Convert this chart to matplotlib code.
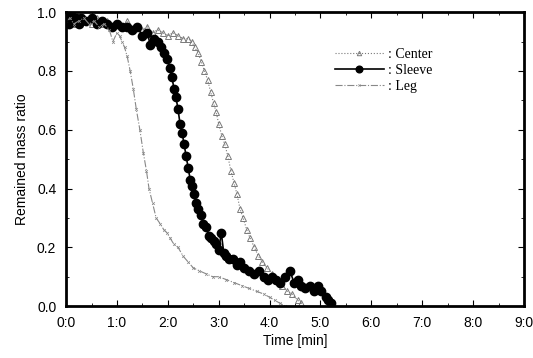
import numpy as np
import matplotlib.pyplot as plt
from matplotlib.ticker import MultipleLocator, FuncFormatter

# Time in minutes, remained mass ratio
leg_t = [0.00, 0.08, 0.15, 0.25, 0.35, 0.45, 0.55, 0.65, 0.75, 0.85, 0.92, 1.00,
         1.05, 1.10, 1.15, 1.20, 1.26, 1.32, 1.38, 1.45, 1.52, 1.58, 1.63, 1.70,
         1.77, 1.85, 1.92, 1.98, 2.05, 2.12, 2.20, 2.30, 2.40, 2.50, 2.62, 2.75,
         2.88, 3.00, 3.15, 3.30, 3.45, 3.60, 3.75, 3.90, 4.00, 4.10, 4.20, 4.30]
leg_m = [0.97, 0.98, 0.96, 0.97, 0.98, 0.96, 0.97, 0.95, 0.96, 0.94, 0.90, 0.93,
         0.92, 0.90, 0.88, 0.85, 0.80, 0.74, 0.67, 0.60, 0.52, 0.46, 0.40, 0.35,
         0.30, 0.28, 0.26, 0.25, 0.23, 0.21, 0.20, 0.17, 0.15, 0.13, 0.12, 0.11,
         0.10, 0.10, 0.09, 0.08, 0.07, 0.06, 0.05, 0.04, 0.03, 0.02, 0.01, 0.00]

sleeve_t = [0.00, 0.05, 0.10, 0.15, 0.20, 0.25, 0.30, 0.40, 0.50, 0.60, 0.70, 0.80,
            0.90, 1.00, 1.10, 1.20, 1.30, 1.40, 1.50, 1.60, 1.65, 1.72, 1.80, 1.87,
            1.93, 1.98, 2.04, 2.08, 2.12, 2.16, 2.20, 2.24, 2.28, 2.32, 2.36, 2.40,
            2.44, 2.48, 2.52, 2.56, 2.60, 2.65, 2.70, 2.75, 2.80, 2.85, 2.90, 2.95,
            3.00, 3.05, 3.10, 3.15, 3.20, 3.28, 3.35, 3.42, 3.50, 3.60, 3.70, 3.80,
            3.90, 3.97, 4.05, 4.12, 4.20, 4.30, 4.40, 4.48, 4.55, 4.62, 4.70, 4.80,
            4.88, 4.95, 5.02, 5.10, 5.15, 5.20]
sleeve_m = [0.98, 0.96, 0.99, 0.97, 0.98, 0.96, 0.98, 0.97, 0.98, 0.96, 0.97, 0.96,
            0.95, 0.96, 0.95, 0.95, 0.94, 0.95, 0.92, 0.93, 0.89, 0.91, 0.90, 0.88,
            0.86, 0.84, 0.81, 0.78, 0.74, 0.71, 0.67, 0.62, 0.59, 0.55, 0.51, 0.47,
            0.43, 0.41, 0.38, 0.35, 0.33, 0.31, 0.28, 0.27, 0.24, 0.23, 0.22, 0.21,
            0.19, 0.25, 0.18, 0.17, 0.16, 0.16, 0.14, 0.15, 0.13, 0.12, 0.11, 0.12,
            0.10, 0.09, 0.10, 0.09, 0.08, 0.10, 0.12, 0.08, 0.09, 0.07, 0.06, 0.07,
            0.05, 0.07, 0.05, 0.03, 0.02, 0.01]

center_t = [0.00, 0.10, 0.20, 0.30, 0.40, 0.50, 0.60, 0.70, 0.80, 0.90, 1.00, 1.10,
            1.20, 1.30, 1.40, 1.50, 1.60, 1.70, 1.80, 1.90, 2.00, 2.10, 2.20, 2.30,
            2.40, 2.47, 2.53, 2.60, 2.66, 2.72, 2.78, 2.84, 2.90, 2.95, 3.00, 3.06,
            3.12, 3.18, 3.24, 3.30, 3.36, 3.42, 3.48, 3.55, 3.62, 3.70, 3.78, 3.86,
            3.95, 4.05, 4.15, 4.25, 4.35, 4.45, 4.55, 4.62]
center_m = [0.97, 0.98, 0.96, 0.98, 0.97, 0.96, 0.98, 0.96, 0.97, 0.95, 0.96, 0.95,
            0.97, 0.94, 0.95, 0.94, 0.95, 0.93, 0.94, 0.93, 0.92, 0.93, 0.92, 0.91,
            0.91, 0.90, 0.88, 0.86, 0.83, 0.80, 0.77, 0.73, 0.69, 0.66, 0.62, 0.58,
            0.55, 0.51, 0.46, 0.42, 0.38, 0.33, 0.30, 0.26, 0.23, 0.20, 0.17, 0.15,
            0.13, 0.11, 0.09, 0.07, 0.05, 0.04, 0.02, 0.01]

fig = plt.figure(figsize=(5.33, 3.58), dpi=100)
ax = fig.add_axes([0.124, 0.145, 0.859, 0.821])

ax.plot(center_t, center_m, color='#7a7a7a', linestyle=':', linewidth=0.8,
        marker='^', markersize=4, markerfacecolor='none', markeredgewidth=0.7,
        label=': Center')
ax.plot(sleeve_t, sleeve_m, color='black', linestyle='-', linewidth=1.2,
        marker='o', markersize=6, label=': Sleeve')
ax.plot(leg_t, leg_m, color='#888888', linestyle='-.', linewidth=0.8,
        marker='x', markersize=2, markeredgewidth=0.5, label=': Leg')

ax.set_xlim(0, 9)
ax.set_ylim(0, 1.0)
ax.xaxis.set_major_locator(MultipleLocator(1))
ax.xaxis.set_minor_locator(MultipleLocator(0.5))
ax.yaxis.set_major_locator(MultipleLocator(0.2))
ax.yaxis.set_minor_locator(MultipleLocator(0.1))
ax.xaxis.set_major_formatter(FuncFormatter(lambda v, p: '%d:0' % round(v)))
ax.yaxis.set_major_formatter(FuncFormatter(lambda v, p: '%.1f' % v))

for side in ['left', 'right', 'top', 'bottom']:
    ax.spines[side].set_linewidth(2)
ax.tick_params(which='both', direction='in', top=True, right=True,
               labelsize=10, pad=7)
ax.tick_params(which='major', length=4)
ax.tick_params(which='minor', length=2)

ax.set_xlabel('Time [min]', fontsize=10, family='Liberation Sans', labelpad=3)
ax.set_ylabel('Remained mass ratio', fontsize=10, family='Liberation Sans', labelpad=6)
for lab in ax.get_xticklabels() + ax.get_yticklabels():
    lab.set_family('Liberation Sans')

leg = ax.legend(loc='upper left', bbox_to_anchor=(0.56, 0.92), frameon=False,
                prop={'family': 'Liberation Serif', 'size': 10},
                handlelength=3.5, handletextpad=0.3, labelspacing=0.2,
                markerscale=0.8)

fig.savefig('out.png', dpi=100)
